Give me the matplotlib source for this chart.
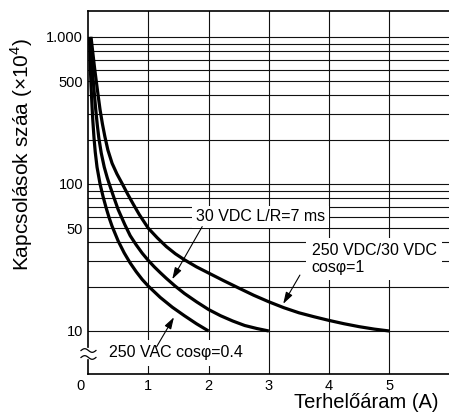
import numpy as np
import matplotlib
matplotlib.use("Agg")
import matplotlib.pyplot as plt

plt.rcParams['font.family'] = ['Liberation Sans', 'DejaVu Sans']
plt.rcParams['mathtext.fontset'] = 'custom'
plt.rcParams['mathtext.rm'] = 'Liberation Sans'

#--- Data ---
# 250 VAC cos phi=0.4
ac_x = [0.025, 0.03, 0.035, 0.04, 0.05, 0.06, 0.07, 0.08, 0.1, 0.12, 0.15, 0.2, 0.25, 0.3, 0.35,
        0.4, 0.5, 0.6, 0.7, 0.8, 0.9, 1.0, 1.2, 1.4, 1.6, 1.8, 2.0]
ac_y = [1000, 820, 690, 600, 470, 385, 320, 270, 205, 165, 130, 100, 82, 69, 59,
        51.5, 41, 34, 29, 25.3, 22.4, 20.2, 16.9, 14.5, 12.7, 11.2, 10]
# 30 VDC L/R=7 ms
dcl_x = [0.035, 0.05, 0.065, 0.08, 0.09, 0.11, 0.13, 0.155, 0.18, 0.22, 0.27, 0.32, 0.36, 0.42,
         0.5, 0.61, 0.7, 0.8, 0.9, 1.0, 1.1, 1.2, 1.3, 1.44, 1.6, 1.8, 2.0, 2.2, 2.4, 2.6, 2.8, 3.0]
dcl_y = [1000, 800, 650, 540, 485, 390, 315, 250, 205, 162, 130, 110, 98, 83,
         67, 53, 44.5, 38.5, 33.8, 30.2, 27.3, 24.9, 22.8, 20.3, 18, 15.8, 14, 12.7, 11.7, 10.9, 10.4, 10]
# 250 VDC/30 VDC cos phi=1
dcr_x = [0.05, 0.08, 0.11, 0.14, 0.17, 0.2, 0.24, 0.28, 0.33, 0.4, 0.48, 0.57, 0.66, 0.75, 0.85,
         1.0, 1.15, 1.3, 1.45, 1.6, 1.8, 2.0, 2.25, 2.5, 2.75, 3.0, 3.25, 3.5, 3.75, 4.0, 4.25,
         4.5, 4.75, 5.0]
dcr_y = [1000, 780, 610, 490, 395, 320, 255, 210, 170, 138, 117, 100, 85, 73, 62,
         50, 43, 37.5, 33.5, 30.5, 27.3, 24.8, 22, 19.6, 17.5, 15.8, 14.4, 13.3, 12.5, 11.8, 11.2,
         10.7, 10.3, 10]

x_ticks = [1, 2, 3, 4, 5]
y_ticks = [10, 50, 100, 500, 1000]
y_tick_labels = ['10', '50', '100', '500', '1.000']
y_grid = [10, 20, 30, 40, 50, 60, 70, 80, 90, 100, 200, 300, 400, 500, 600, 700, 800, 900, 1000]

fig = plt.figure(figsize=(4.49, 4.13), dpi=100)
ax = fig.add_axes([88/449, 39/413, 361/449, 363/413])

ax.set_yscale('log')
ax.set_xlim(0, 5.99)
ax.set_ylim(5.1, 1500)

ax.set_xticks(x_ticks)
ax.set_xticklabels([str(t) for t in x_ticks])
ax.set_yticks(y_grid, minor=True)
ax.set_yticks(y_ticks)
ax.set_yticklabels(y_tick_labels)
ax.yaxis.set_minor_formatter(matplotlib.ticker.NullFormatter())
ax.tick_params(which='both', length=0, labelsize=10.5, pad=3.5, colors='black')
ax.grid(True, which='both', color='#111111', lw=0.8)
ax.set_axisbelow(True)

for s in ['right', 'left']:
    ax.spines[s].set_visible(False)
ax.spines['top'].set_linewidth(1.2)
ax.spines['bottom'].set_linewidth(1.2)

# left axis with break
ax.plot([0, 0], [0.0744, 1], transform=ax.transAxes, color='black', lw=1.2, clip_on=False)
ax.plot([0, 0], [0, 0.0386], transform=ax.transAxes, color='black', lw=1.2, clip_on=False)
t = np.linspace(0, 1, 40)
wx = -0.0194 + t * 0.0414
for yc in [0.0647, 0.0455]:
    ax.plot(wx, yc + 0.005 * np.sin(2 * np.pi * t), transform=ax.transAxes,
            color='black', lw=0.9, clip_on=False)

ax.text(-0.022, -0.0134, '0', transform=ax.transAxes, ha='center', va='top', fontsize=10.5)

# curves
for xs, ys in [(ac_x, ac_y), (dcl_x, dcl_y), (dcr_x, dcr_y)]:
    ax.plot(xs, ys, color='black', lw=2.3, solid_capstyle='butt', solid_joinstyle='round', zorder=3)

arrow = dict(arrowstyle='-|>,head_length=0.7,head_width=0.22', color='black', lw=0.8,
             shrinkA=0, shrinkB=0)

ax.text(1.79, 60, '30 VDC L/R=7 ms', ha='left', va='center', fontsize=11.5,
        bbox=dict(facecolor='white', edgecolor='none', pad=2.5), zorder=4)
ax.annotate('', xy=(1.398, 22.5), xytext=(1.895, 51.3), arrowprops=arrow, zorder=4)

ax.text(3.71, 30.9, '250 VDC/30 VDC\ncosφ=1', ha='left', va='center', fontsize=11.5,
        linespacing=1.12, bbox=dict(facecolor='white', edgecolor='none', pad=4), zorder=4)
ax.annotate('', xy=(3.239, 15.3), xytext=(3.516, 24.0), arrowprops=arrow, zorder=4)

ax.text(0.35, 7.09, '250 VAC cosφ=0.4', ha='left', va='center', fontsize=11.5,
        bbox=dict(facecolor='white', edgecolor='none', pad=4), zorder=4)
ax.annotate('', xy=(1.426, 12.4), xytext=(1.139, 7.82), arrowprops=arrow, zorder=4)

fig.text(22/449, 1 - 155/413, 'Kapcsolások száa (×$10^4$)', rotation=90,
         ha='center', va='center', fontsize=15)
fig.text(438/449, 1 - 402/413, 'Terhelőáram (A)', ha='right', va='center', fontsize=14.5)

fig.savefig('out.png', dpi=100)
